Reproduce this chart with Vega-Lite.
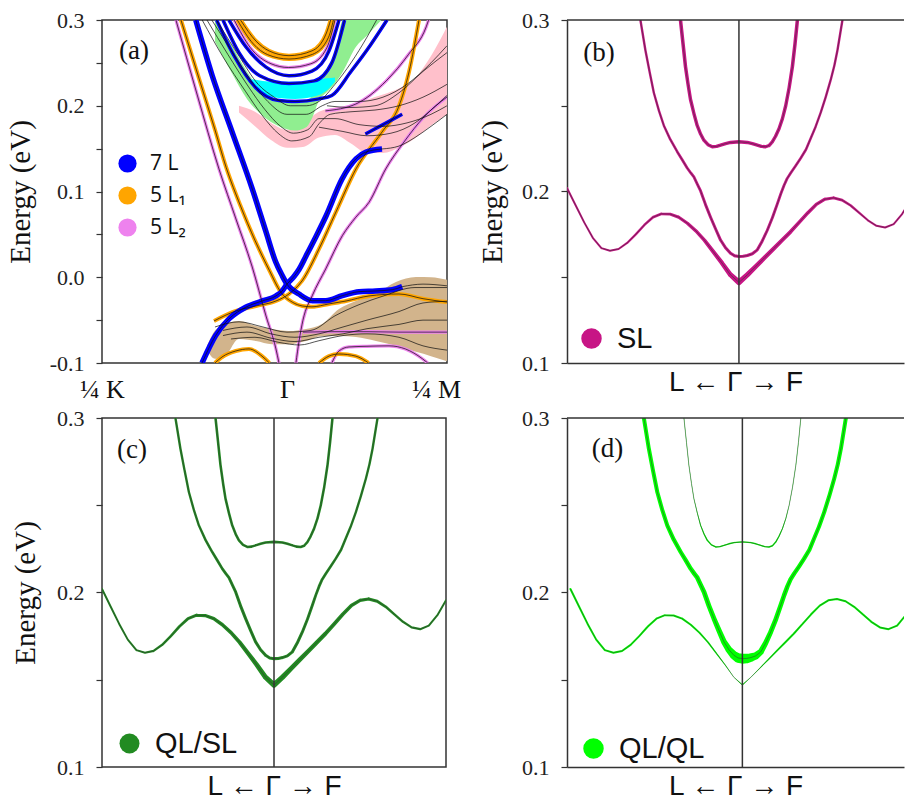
{
"$schema": "https://vega.github.io/schema/vega-lite/v6.json",
"background": "white",
"padding": {"left": 5, "top": 8, "right": 0, "bottom": 0},
"config": {
 "view": {"stroke": "#333", "strokeWidth": 1.5},
 "axis": {"grid": false, "domainColor": "#333", "domainWidth": 1.5, "tickColor": "#333", "tickWidth": 1.2, "tickSize": 6, "labelFont": "Liberation Serif", "labelFontSize": 22, "labelColor": "#222", "labelPadding": 12, "titleFont": "Liberation Serif", "titleFontSize": 29, "titleFontWeight": "normal", "titleColor": "#111", "titlePadding": 14},
 "legend": {"padding": 0, "symbolType": "circle", "symbolOpacity": 1, "symbolStrokeWidth": 0, "labelColor": "#111", "labelLimit": 300}
},
"datasets": {
 "bands": [
  {"b":1,"k":-1.00,"E":0.2020,"wSL":0.25,"wQS":0.25,"wQQ":0.25},
  {"b":1,"k":-0.95,"E":0.1920,"wSL":0.25,"wQS":0.25,"wQQ":0.25},
  {"b":1,"k":-0.90,"E":0.1820,"wSL":0.25,"wQS":0.25,"wQQ":0.25},
  {"b":1,"k":-0.85,"E":0.1730,"wSL":0.25,"wQS":0.25,"wQQ":0.25},
  {"b":1,"k":-0.80,"E":0.1670,"wSL":0.25,"wQS":0.25,"wQQ":0.25},
  {"b":1,"k":-0.75,"E":0.1655,"wSL":0.25,"wQS":0.27,"wQQ":0.25},
  {"b":1,"k":-0.70,"E":0.1665,"wSL":0.25,"wQS":0.28,"wQQ":0.25},
  {"b":1,"k":-0.65,"E":0.1700,"wSL":0.27,"wQS":0.30,"wQQ":0.25},
  {"b":1,"k":-0.60,"E":0.1750,"wSL":0.28,"wQS":0.32,"wQQ":0.25},
  {"b":1,"k":-0.55,"E":0.1805,"wSL":0.30,"wQS":0.34,"wQQ":0.25},
  {"b":1,"k":-0.50,"E":0.1850,"wSL":0.32,"wQS":0.36,"wQQ":0.25},
  {"b":1,"k":-0.45,"E":0.1870,"wSL":0.34,"wQS":0.38,"wQQ":0.25},
  {"b":1,"k":-0.40,"E":0.1868,"wSL":0.36,"wQS":0.40,"wQQ":0.25},
  {"b":1,"k":-0.35,"E":0.1850,"wSL":0.38,"wQS":0.42,"wQQ":0.25},
  {"b":1,"k":-0.30,"E":0.1815,"wSL":0.40,"wQS":0.44,"wQQ":0.25},
  {"b":1,"k":-0.25,"E":0.1770,"wSL":0.43,"wQS":0.46,"wQQ":0.24},
  {"b":1,"k":-0.20,"E":0.1715,"wSL":0.46,"wQS":0.49,"wQQ":0.22},
  {"b":1,"k":-0.15,"E":0.1650,"wSL":0.50,"wQS":0.53,"wQQ":0.18},
  {"b":1,"k":-0.10,"E":0.1585,"wSL":0.55,"wQS":0.58,"wQQ":0.10},
  {"b":1,"k":-0.05,"E":0.1515,"wSL":0.62,"wQS":0.64,"wQQ":0.03},
  {"b":1,"k":0.00,"E":0.1470,"wSL":0.70,"wQS":0.70,"wQQ":0.0},
  {"b":1,"k":0.05,"E":0.1515,"wSL":0.64,"wQS":0.65,"wQQ":0.03},
  {"b":1,"k":0.10,"E":0.1565,"wSL":0.58,"wQS":0.60,"wQQ":0.10},
  {"b":1,"k":0.15,"E":0.1615,"wSL":0.55,"wQS":0.57,"wQQ":0.18},
  {"b":1,"k":0.20,"E":0.1665,"wSL":0.52,"wQS":0.54,"wQQ":0.22},
  {"b":1,"k":0.25,"E":0.1715,"wSL":0.50,"wQS":0.52,"wQQ":0.24},
  {"b":1,"k":0.30,"E":0.1765,"wSL":0.48,"wQS":0.50,"wQQ":0.25},
  {"b":1,"k":0.35,"E":0.1820,"wSL":0.46,"wQS":0.48,"wQQ":0.25},
  {"b":1,"k":0.40,"E":0.1875,"wSL":0.44,"wQS":0.46,"wQQ":0.25},
  {"b":1,"k":0.45,"E":0.1925,"wSL":0.42,"wQS":0.44,"wQQ":0.25},
  {"b":1,"k":0.50,"E":0.1955,"wSL":0.40,"wQS":0.42,"wQQ":0.25},
  {"b":1,"k":0.55,"E":0.1963,"wSL":0.37,"wQS":0.40,"wQQ":0.25},
  {"b":1,"k":0.60,"E":0.1950,"wSL":0.34,"wQS":0.37,"wQQ":0.25},
  {"b":1,"k":0.65,"E":0.1918,"wSL":0.31,"wQS":0.34,"wQQ":0.25},
  {"b":1,"k":0.70,"E":0.1875,"wSL":0.28,"wQS":0.31,"wQQ":0.25},
  {"b":1,"k":0.75,"E":0.1832,"wSL":0.26,"wQS":0.29,"wQQ":0.25},
  {"b":1,"k":0.80,"E":0.1800,"wSL":0.25,"wQS":0.28,"wQQ":0.25},
  {"b":1,"k":0.85,"E":0.1790,"wSL":0.25,"wQS":0.27,"wQQ":0.25},
  {"b":1,"k":0.90,"E":0.1810,"wSL":0.25,"wQS":0.26,"wQQ":0.25},
  {"b":1,"k":0.95,"E":0.1870,"wSL":0.25,"wQS":0.25,"wQQ":0.25},
  {"b":1,"k":1.00,"E":0.1955,"wSL":0.25,"wQS":0.25,"wQQ":0.25},
  {"b":2,"k":-0.573,"E":0.3000,"wSL":0.30,"wQS":0.30,"wQQ":0.50},
  {"b":2,"k":-0.544,"E":0.2824,"wSL":0.30,"wQS":0.30,"wQQ":0.50},
  {"b":2,"k":-0.520,"E":0.2700,"wSL":0.30,"wQS":0.30,"wQQ":0.50},
  {"b":2,"k":-0.495,"E":0.2576,"wSL":0.30,"wQS":0.30,"wQQ":0.50},
  {"b":2,"k":-0.465,"E":0.2470,"wSL":0.30,"wQS":0.30,"wQQ":0.50},
  {"b":2,"k":-0.437,"E":0.2385,"wSL":0.30,"wQS":0.30,"wQQ":0.50},
  {"b":2,"k":-0.400,"E":0.2305,"wSL":0.32,"wQS":0.32,"wQQ":0.52},
  {"b":2,"k":-0.359,"E":0.2232,"wSL":0.32,"wQS":0.32,"wQQ":0.52},
  {"b":2,"k":-0.330,"E":0.2185,"wSL":0.34,"wQS":0.34,"wQQ":0.54},
  {"b":2,"k":-0.301,"E":0.2137,"wSL":0.34,"wQS":0.34,"wQQ":0.55},
  {"b":2,"k":-0.280,"E":0.2108,"wSL":0.35,"wQS":0.35,"wQQ":0.56},
  {"b":2,"k":-0.262,"E":0.2085,"wSL":0.35,"wQS":0.36,"wQQ":0.57},
  {"b":2,"k":-0.243,"E":0.2045,"wSL":0.35,"wQS":0.36,"wQQ":0.58},
  {"b":2,"k":-0.223,"E":0.2003,"wSL":0.36,"wQS":0.37,"wQQ":0.60},
  {"b":2,"k":-0.195,"E":0.1925,"wSL":0.36,"wQS":0.38,"wQQ":0.60},
  {"b":2,"k":-0.165,"E":0.1850,"wSL":0.37,"wQS":0.38,"wQQ":0.62},
  {"b":2,"k":-0.135,"E":0.1780,"wSL":0.37,"wQS":0.38,"wQQ":0.66},
  {"b":2,"k":-0.107,"E":0.1717,"wSL":0.38,"wQS":0.38,"wQQ":0.72},
  {"b":2,"k":-0.078,"E":0.1672,"wSL":0.38,"wQS":0.38,"wQQ":0.85},
  {"b":2,"k":-0.049,"E":0.1640,"wSL":0.38,"wQS":0.38,"wQQ":1.05},
  {"b":2,"k":-0.025,"E":0.1625,"wSL":0.38,"wQS":0.38,"wQQ":1.20},
  {"b":2,"k":0.000,"E":0.1621,"wSL":0.38,"wQS":0.38,"wQQ":1.25},
  {"b":2,"k":0.025,"E":0.1622,"wSL":0.38,"wQS":0.38,"wQQ":1.20},
  {"b":2,"k":0.049,"E":0.1627,"wSL":0.38,"wQS":0.38,"wQQ":1.05},
  {"b":2,"k":0.078,"E":0.1637,"wSL":0.38,"wQS":0.38,"wQQ":0.90},
  {"b":2,"k":0.107,"E":0.1660,"wSL":0.37,"wQS":0.38,"wQQ":0.75},
  {"b":2,"k":0.135,"E":0.1710,"wSL":0.37,"wQS":0.38,"wQQ":0.66},
  {"b":2,"k":0.165,"E":0.1774,"wSL":0.36,"wQS":0.37,"wQQ":0.62},
  {"b":2,"k":0.195,"E":0.1848,"wSL":0.36,"wQS":0.36,"wQQ":0.60},
  {"b":2,"k":0.223,"E":0.1927,"wSL":0.35,"wQS":0.36,"wQQ":0.58},
  {"b":2,"k":0.243,"E":0.1985,"wSL":0.35,"wQS":0.35,"wQQ":0.57},
  {"b":2,"k":0.262,"E":0.2035,"wSL":0.35,"wQS":0.35,"wQQ":0.56},
  {"b":2,"k":0.280,"E":0.2075,"wSL":0.34,"wQS":0.34,"wQQ":0.55},
  {"b":2,"k":0.301,"E":0.2108,"wSL":0.34,"wQS":0.34,"wQQ":0.54},
  {"b":2,"k":0.330,"E":0.2150,"wSL":0.33,"wQS":0.33,"wQQ":0.53},
  {"b":2,"k":0.359,"E":0.2194,"wSL":0.32,"wQS":0.32,"wQQ":0.52},
  {"b":2,"k":0.390,"E":0.2245,"wSL":0.32,"wQS":0.32,"wQQ":0.52},
  {"b":2,"k":0.417,"E":0.2309,"wSL":0.31,"wQS":0.31,"wQQ":0.50},
  {"b":2,"k":0.446,"E":0.2378,"wSL":0.30,"wQS":0.30,"wQQ":0.50},
  {"b":2,"k":0.476,"E":0.2461,"wSL":0.30,"wQS":0.30,"wQQ":0.50},
  {"b":2,"k":0.505,"E":0.2552,"wSL":0.30,"wQS":0.30,"wQQ":0.50},
  {"b":2,"k":0.534,"E":0.2652,"wSL":0.30,"wQS":0.30,"wQQ":0.50},
  {"b":2,"k":0.555,"E":0.2735,"wSL":0.30,"wQS":0.30,"wQQ":0.50},
  {"b":2,"k":0.573,"E":0.2824,"wSL":0.30,"wQS":0.30,"wQQ":0.50},
  {"b":2,"k":0.602,"E":0.3000,"wSL":0.30,"wQS":0.30,"wQQ":0.50},
  {"b":3,"k":-0.340,"E":0.3000,"wSL":0.44,"wQS":0.32,"wQQ":0.05},
  {"b":3,"k":-0.325,"E":0.2860,"wSL":0.44,"wQS":0.32,"wQQ":0.05},
  {"b":3,"k":-0.311,"E":0.2729,"wSL":0.44,"wQS":0.32,"wQQ":0.05},
  {"b":3,"k":-0.296,"E":0.2625,"wSL":0.43,"wQS":0.32,"wQQ":0.05},
  {"b":3,"k":-0.282,"E":0.2538,"wSL":0.43,"wQS":0.32,"wQQ":0.05},
  {"b":3,"k":-0.262,"E":0.2455,"wSL":0.42,"wQS":0.32,"wQQ":0.08},
  {"b":3,"k":-0.243,"E":0.2385,"wSL":0.42,"wQS":0.32,"wQQ":0.12},
  {"b":3,"k":-0.223,"E":0.2335,"wSL":0.42,"wQS":0.32,"wQQ":0.15},
  {"b":3,"k":-0.204,"E":0.2299,"wSL":0.42,"wQS":0.32,"wQQ":0.18},
  {"b":3,"k":-0.180,"E":0.2273,"wSL":0.42,"wQS":0.32,"wQQ":0.18},
  {"b":3,"k":-0.155,"E":0.2261,"wSL":0.42,"wQS":0.32,"wQQ":0.18},
  {"b":3,"k":-0.130,"E":0.2263,"wSL":0.42,"wQS":0.32,"wQQ":0.18},
  {"b":3,"k":-0.107,"E":0.2270,"wSL":0.42,"wQS":0.32,"wQQ":0.18},
  {"b":3,"k":-0.078,"E":0.2279,"wSL":0.42,"wQS":0.32,"wQQ":0.18},
  {"b":3,"k":-0.049,"E":0.2286,"wSL":0.42,"wQS":0.32,"wQQ":0.18},
  {"b":3,"k":0.000,"E":0.2290,"wSL":0.42,"wQS":0.32,"wQQ":0.18},
  {"b":3,"k":0.049,"E":0.2286,"wSL":0.42,"wQS":0.32,"wQQ":0.18},
  {"b":3,"k":0.078,"E":0.2279,"wSL":0.42,"wQS":0.32,"wQQ":0.18},
  {"b":3,"k":0.107,"E":0.2270,"wSL":0.42,"wQS":0.32,"wQQ":0.18},
  {"b":3,"k":0.130,"E":0.2263,"wSL":0.42,"wQS":0.32,"wQQ":0.18},
  {"b":3,"k":0.155,"E":0.2261,"wSL":0.42,"wQS":0.32,"wQQ":0.18},
  {"b":3,"k":0.175,"E":0.2268,"wSL":0.42,"wQS":0.32,"wQQ":0.18},
  {"b":3,"k":0.194,"E":0.2289,"wSL":0.42,"wQS":0.32,"wQQ":0.18},
  {"b":3,"k":0.213,"E":0.2322,"wSL":0.42,"wQS":0.32,"wQQ":0.15},
  {"b":3,"k":0.233,"E":0.2366,"wSL":0.42,"wQS":0.32,"wQQ":0.12},
  {"b":3,"k":0.253,"E":0.2425,"wSL":0.42,"wQS":0.32,"wQQ":0.08},
  {"b":3,"k":0.272,"E":0.2500,"wSL":0.43,"wQS":0.32,"wQQ":0.05},
  {"b":3,"k":0.292,"E":0.2605,"wSL":0.43,"wQS":0.32,"wQQ":0.05},
  {"b":3,"k":0.311,"E":0.2729,"wSL":0.44,"wQS":0.32,"wQQ":0.05},
  {"b":3,"k":0.326,"E":0.2860,"wSL":0.44,"wQS":0.32,"wQQ":0.05},
  {"b":3,"k":0.340,"E":0.3000,"wSL":0.44,"wQS":0.32,"wQQ":0.05}
 ],
 "aregions": [
  {"region":"tan","k":-0.5,"lo":-0.085,"hi":-0.08},
  {"region":"tan","k":-0.45,"lo":-0.095,"hi":-0.062},
  {"region":"tan","k":-0.406,"lo":-0.0953,"hi":-0.0568},
  {"region":"tan","k":-0.3,"lo":-0.072,"hi":-0.051},
  {"region":"tan","k":-0.194,"lo":-0.0743,"hi":-0.0568},
  {"region":"tan","k":-0.094,"lo":-0.078,"hi":-0.0603},
  {"region":"tan","k":0.0125,"lo":-0.078,"hi":-0.0627},
  {"region":"tan","k":0.119,"lo":-0.0743,"hi":-0.0603},
  {"region":"tan","k":0.219,"lo":-0.0685,"hi":-0.0545},
  {"region":"tan","k":0.325,"lo":-0.0685,"hi":-0.037},
  {"region":"tan","k":0.431,"lo":-0.0697,"hi":-0.0277},
  {"region":"tan","k":0.556,"lo":-0.0743,"hi":-0.0195},
  {"region":"tan","k":0.681,"lo":-0.08,"hi":-0.0055},
  {"region":"tan","k":0.806,"lo":-0.087,"hi":0.0003},
  {"region":"tan","k":0.9,"lo":-0.092,"hi":0.0},
  {"region":"tan","k":1.0,"lo":-0.098,"hi":-0.003},
  {"region":"pink","k":-0.3,"lo":0.192,"hi":0.2},
  {"region":"pink","k":-0.2,"lo":0.176,"hi":0.193},
  {"region":"pink","k":-0.1,"lo":0.16,"hi":0.18},
  {"region":"pink","k":0.0,"lo":0.151,"hi":0.172},
  {"region":"pink","k":0.1,"lo":0.152,"hi":0.18},
  {"region":"pink","k":0.2,"lo":0.163,"hi":0.193},
  {"region":"pink","k":0.3,"lo":0.166,"hi":0.198},
  {"region":"pink","k":0.4,"lo":0.156,"hi":0.2},
  {"region":"pink","k":0.5,"lo":0.145,"hi":0.207},
  {"region":"pink","k":0.6,"lo":0.145,"hi":0.213},
  {"region":"pink","k":0.7,"lo":0.151,"hi":0.22},
  {"region":"pink","k":0.8,"lo":0.162,"hi":0.232},
  {"region":"pink","k":0.9,"lo":0.177,"hi":0.258},
  {"region":"pink","k":1.0,"lo":0.19,"hi":0.292},
  {"region":"green","k":-0.45,"lo":0.275,"hi":0.3},
  {"region":"green","k":-0.35,"lo":0.24,"hi":0.272},
  {"region":"green","k":-0.25,"lo":0.208,"hi":0.24},
  {"region":"green","k":-0.15,"lo":0.188,"hi":0.215},
  {"region":"green","k":-0.05,"lo":0.176,"hi":0.205},
  {"region":"green","k":0.05,"lo":0.171,"hi":0.203},
  {"region":"green","k":0.12,"lo":0.175,"hi":0.206},
  {"region":"green","k":0.16,"lo":0.187,"hi":0.212},
  {"region":"green","k":0.2,"lo":0.206,"hi":0.224},
  {"region":"green","k":0.25,"lo":0.216,"hi":0.24},
  {"region":"green","k":0.3,"lo":0.226,"hi":0.262},
  {"region":"green","k":0.35,"lo":0.24,"hi":0.3},
  {"region":"green","k":0.43,"lo":0.2685,"hi":0.3},
  {"region":"green","k":0.5,"lo":0.282,"hi":0.3},
  {"region":"green","k":0.59,"lo":0.3,"hi":0.3},
  {"region":"cyan","k":-0.22,"lo":0.226,"hi":0.231},
  {"region":"cyan","k":-0.15,"lo":0.213,"hi":0.229},
  {"region":"cyan","k":-0.05,"lo":0.209,"hi":0.228},
  {"region":"cyan","k":0.05,"lo":0.208,"hi":0.228},
  {"region":"cyan","k":0.15,"lo":0.21,"hi":0.229},
  {"region":"cyan","k":0.25,"lo":0.218,"hi":0.232},
  {"region":"cyan","k":0.3,"lo":0.228,"hi":0.233}
 ],
 "abands": [
  {"id":"A","orb":"7 L","k":-0.57,"E":0.3},{"id":"A","orb":"7 L","k":-0.467,"E":0.235},{"id":"A","orb":"7 L","k":-0.342,"E":0.169},{"id":"A","orb":"7 L","k":-0.217,"E":0.103},{"id":"A","orb":"7 L","k":-0.133,"E":0.054},{"id":"A","orb":"7 L","k":-0.071,"E":0.018},{"id":"A","orb":"7 L","k":-0.03,"E":0.002},{"id":"A","orb":"7 L","k":0,"E":-0.008},{"id":"A","orb":"7 L","k":0.075,"E":-0.0196},{"id":"A","orb":"7 L","k":0.158,"E":-0.0273},{"id":"A","orb":"7 L","k":0.242,"E":-0.0273},{"id":"A","orb":"7 L","k":0.346,"E":-0.0215},{"id":"A","orb":"7 L","k":0.45,"E":-0.0168},{"id":"A","orb":"7 L","k":0.554,"E":-0.016},{"id":"A","orb":"7 L","k":0.658,"E":-0.0145},{"id":"A","orb":"7 L","k":0.72,"E":-0.011},
  {"id":"B","orb":"7 L","k":-0.531,"E":-0.1},{"id":"B","orb":"7 L","k":-0.446,"E":-0.068},{"id":"B","orb":"7 L","k":-0.3625,"E":-0.0486},{"id":"B","orb":"7 L","k":-0.258,"E":-0.035},{"id":"B","orb":"7 L","k":-0.156,"E":-0.0277},{"id":"B","orb":"7 L","k":-0.069,"E":-0.0218},{"id":"B","orb":"7 L","k":-0.03,"E":-0.016},{"id":"B","orb":"7 L","k":0,"E":-0.008},{"id":"B","orb":"7 L","k":0.04,"E":0.0},{"id":"B","orb":"7 L","k":0.075,"E":0.009},{"id":"B","orb":"7 L","k":0.119,"E":0.0248},{"id":"B","orb":"7 L","k":0.18,"E":0.047},{"id":"B","orb":"7 L","k":0.244,"E":0.0714},{"id":"B","orb":"7 L","k":0.344,"E":0.1146},{"id":"B","orb":"7 L","k":0.431,"E":0.138},{"id":"B","orb":"7 L","k":0.494,"E":0.146},{"id":"B","orb":"7 L","k":0.594,"E":0.1496},
  {"id":"BD","orb":"bulk","k":0.594,"E":0.1496},{"id":"BD","orb":"bulk","k":0.7,"E":0.153},{"id":"BD","orb":"bulk","k":0.8,"E":0.163},{"id":"BD","orb":"bulk","k":0.9,"E":0.176},{"id":"BD","orb":"bulk","k":1,"E":0.19},
  {"id":"AD","orb":"bulk","k":0.72,"E":-0.011},{"id":"AD","orb":"bulk","k":0.85,"E":-0.008},{"id":"AD","orb":"bulk","k":1,"E":-0.01},
  {"id":"B2","orb":"7 L","k":0.49,"E":0.167},{"id":"B2","orb":"7 L","k":0.6,"E":0.178},{"id":"B2","orb":"7 L","k":0.72,"E":0.19},
  {"id":"C","orb":"5 L₁","k":-0.6625,"E":0.3},{"id":"C","orb":"5 L₁","k":-0.55,"E":0.232},{"id":"C","orb":"5 L₁","k":-0.45,"E":0.172},{"id":"C","orb":"5 L₁","k":-0.38,"E":0.128},{"id":"C","orb":"5 L₁","k":-0.29,"E":0.083},{"id":"C","orb":"5 L₁","k":-0.2,"E":0.043},{"id":"C","orb":"5 L₁","k":-0.11,"E":0.008},{"id":"C","orb":"5 L₁","k":-0.04,"E":-0.017},{"id":"C","orb":"5 L₁","k":0.033,"E":-0.029},{"id":"C","orb":"5 L₁","k":0.096,"E":-0.0335},{"id":"C","orb":"5 L₁","k":0.156,"E":-0.0345},{"id":"C","orb":"5 L₁","k":0.2625,"E":-0.0311},{"id":"C","orb":"5 L₁","k":0.369,"E":-0.0277},{"id":"C","orb":"5 L₁","k":0.5125,"E":-0.0218},{"id":"C","orb":"5 L₁","k":0.7,"E":-0.0195},{"id":"C","orb":"5 L₁","k":0.85,"E":-0.025},{"id":"C","orb":"5 L₁","k":1,"E":-0.029},
  {"id":"D","orb":"5 L₁","k":-0.456,"E":-0.051},{"id":"D","orb":"5 L₁","k":-0.319,"E":-0.0393},{"id":"D","orb":"5 L₁","k":-0.194,"E":-0.0335},{"id":"D","orb":"5 L₁","k":-0.069,"E":-0.0277},{"id":"D","orb":"5 L₁","k":0.0125,"E":-0.0195},{"id":"D","orb":"5 L₁","k":0.094,"E":-0.0043},{"id":"D","orb":"5 L₁","k":0.2,"E":0.033},{"id":"D","orb":"5 L₁","k":0.306,"E":0.0761},{"id":"D","orb":"5 L₁","k":0.431,"E":0.1263},{"id":"D","orb":"5 L₁","k":0.594,"E":0.1694},{"id":"D","orb":"5 L₁","k":0.7,"E":0.1997},{"id":"D","orb":"5 L₁","k":0.7625,"E":0.2393},{"id":"D","orb":"5 L₁","k":0.825,"E":0.3},
  {"id":"E","orb":"5 L₂","k":-0.694,"E":0.3},{"id":"E","orb":"5 L₂","k":-0.5625,"E":0.2137},{"id":"E","orb":"5 L₂","k":-0.425,"E":0.1263},{"id":"E","orb":"5 L₂","k":-0.319,"E":0.068},{"id":"E","orb":"5 L₂","k":-0.219,"E":0.0131},{"id":"E","orb":"5 L₂","k":-0.131,"E":-0.0452},{"id":"E","orb":"5 L₂","k":-0.069,"E":-0.0836},{"id":"E","orb":"5 L₂","k":-0.05,"E":-0.1},
  {"id":"F","orb":"5 L₂","k":0.056,"E":-0.1},{"id":"F","orb":"5 L₂","k":0.075,"E":-0.075},{"id":"F","orb":"5 L₂","k":0.1,"E":-0.05},{"id":"F","orb":"5 L₂","k":0.158,"E":-0.0215},{"id":"F","orb":"5 L₂","k":0.242,"E":0.0097},{"id":"F","orb":"5 L₂","k":0.346,"E":0.0485},{"id":"F","orb":"5 L₂","k":0.43,"E":0.07},{"id":"F","orb":"5 L₂","k":0.5125,"E":0.0874},{"id":"F","orb":"5 L₂","k":0.617,"E":0.1263},{"id":"F","orb":"5 L₂","k":0.731,"E":0.1577},{"id":"F","orb":"5 L₂","k":0.856,"E":0.1869},{"id":"F","orb":"5 L₂","k":1,"E":0.2102},
  {"id":"G","orb":"5 L₂","k":0.1,"E":-0.064},{"id":"G","orb":"5 L₂","k":0.3,"E":-0.0635},{"id":"G","orb":"5 L₂","k":0.5,"E":-0.0635},{"id":"G","orb":"5 L₂","k":0.7,"E":-0.064},{"id":"G","orb":"5 L₂","k":1,"E":-0.064},
  {"id":"VA","orb":"5 L₂","k":0.28,"E":-0.1},{"id":"VA","orb":"5 L₂","k":0.325,"E":-0.086},{"id":"VA","orb":"5 L₂","k":0.3875,"E":-0.0813},{"id":"VA","orb":"5 L₂","k":0.5,"E":-0.0805},{"id":"VA","orb":"5 L₂","k":0.6375,"E":-0.08},{"id":"VA","orb":"5 L₂","k":0.74,"E":-0.0836},{"id":"VA","orb":"5 L₂","k":0.846,"E":-0.095},{"id":"VA","orb":"5 L₂","k":0.88,"E":-0.1},
  {"id":"OA1","orb":"5 L₁","k":-0.45,"E":-0.1},{"id":"OA1","orb":"5 L₁","k":-0.406,"E":-0.093},{"id":"OA1","orb":"5 L₁","k":-0.32,"E":-0.086},{"id":"OA1","orb":"5 L₁","k":-0.2375,"E":-0.0836},{"id":"OA1","orb":"5 L₁","k":-0.156,"E":-0.092},{"id":"OA1","orb":"5 L₁","k":-0.11,"E":-0.1},
  {"id":"OA2","orb":"5 L₁","k":0.2,"E":-0.1},{"id":"OA2","orb":"5 L₁","k":0.2625,"E":-0.092},{"id":"OA2","orb":"5 L₁","k":0.325,"E":-0.0895},{"id":"OA2","orb":"5 L₁","k":0.43,"E":-0.092},{"id":"OA2","orb":"5 L₁","k":0.51,"E":-0.1},
  {"id":"UO1","orb":"5 L₁","k":-0.29,"E":0.3},{"id":"UO1","orb":"5 L₁","k":-0.194,"E":0.2755},{"id":"UO1","orb":"5 L₁","k":-0.1125,"E":0.264},{"id":"UO1","orb":"5 L₁","k":0.0125,"E":0.2584},{"id":"UO1","orb":"5 L₁","k":0.156,"E":0.264},{"id":"UO1","orb":"5 L₁","k":0.244,"E":0.2837},{"id":"UO1","orb":"5 L₁","k":0.273,"E":0.3},
  {"id":"UO2","orb":"5 L₁","k":-0.31,"E":0.3},{"id":"UO2","orb":"5 L₁","k":-0.21,"E":0.272},{"id":"UO2","orb":"5 L₁","k":-0.12,"E":0.2595},{"id":"UO2","orb":"5 L₁","k":0.0125,"E":0.2545},{"id":"UO2","orb":"5 L₁","k":0.16,"E":0.26},{"id":"UO2","orb":"5 L₁","k":0.26,"E":0.28},{"id":"UO2","orb":"5 L₁","k":0.29,"E":0.3},
  {"id":"UV1","orb":"5 L₂","k":-0.33,"E":0.3},{"id":"UV1","orb":"5 L₂","k":-0.23,"E":0.268},{"id":"UV1","orb":"5 L₂","k":-0.1,"E":0.249},{"id":"UV1","orb":"5 L₂","k":0.01,"E":0.2446},{"id":"UV1","orb":"5 L₂","k":0.15,"E":0.249},{"id":"UV1","orb":"5 L₂","k":0.25,"E":0.268},{"id":"UV1","orb":"5 L₂","k":0.3,"E":0.3},
  {"id":"UB1","orb":"7 L","k":-0.3625,"E":0.3},{"id":"UB1","orb":"7 L","k":-0.256,"E":0.2685},{"id":"UB1","orb":"7 L","k":-0.131,"E":0.245},{"id":"UB1","orb":"7 L","k":0.0125,"E":0.235},{"id":"UB1","orb":"7 L","k":0.156,"E":0.2405},{"id":"UB1","orb":"7 L","k":0.2625,"E":0.264},{"id":"UB1","orb":"7 L","k":0.325,"E":0.3},
  {"id":"UB2","orb":"7 L","k":-0.4,"E":0.3},{"id":"UB2","orb":"7 L","k":-0.3,"E":0.262},{"id":"UB2","orb":"7 L","k":-0.17,"E":0.235},{"id":"UB2","orb":"7 L","k":0.0125,"E":0.226},{"id":"UB2","orb":"7 L","k":0.17,"E":0.229},{"id":"UB2","orb":"7 L","k":0.28,"E":0.25},{"id":"UB2","orb":"7 L","k":0.36,"E":0.3},
  {"id":"UB3","orb":"7 L","k":-0.44,"E":0.3},{"id":"UB3","orb":"7 L","k":-0.33,"E":0.258},{"id":"UB3","orb":"7 L","k":-0.2,"E":0.222},{"id":"UB3","orb":"7 L","k":-0.05,"E":0.206},{"id":"UB3","orb":"7 L","k":0.05,"E":0.205},{"id":"UB3","orb":"7 L","k":0.2,"E":0.208},{"id":"UB3","orb":"7 L","k":0.28,"E":0.212},{"id":"UB3","orb":"7 L","k":0.4,"E":0.24},{"id":"UB3","orb":"7 L","k":0.5,"E":0.265},{"id":"UB3","orb":"7 L","k":0.625,"E":0.3},
  {"id":"V2","orb":"5 L₂","k":0.24,"E":0.194},{"id":"V2","orb":"5 L₂","k":0.43,"E":0.202},{"id":"V2","orb":"5 L₂","k":0.62,"E":0.229},{"id":"V2","orb":"5 L₂","k":0.76,"E":0.26},{"id":"V2","orb":"5 L₂","k":0.87,"E":0.292},{"id":"V2","orb":"5 L₂","k":0.885,"E":0.3},
  {"id":"K1","orb":"bulk","k":-0.53,"E":0.3},{"id":"K1","orb":"bulk","k":-0.4,"E":0.257},{"id":"K1","orb":"bulk","k":-0.26,"E":0.217},{"id":"K1","orb":"bulk","k":-0.16,"E":0.19},{"id":"K1","orb":"bulk","k":-0.05,"E":0.167},{"id":"K1","orb":"bulk","k":0.03,"E":0.159},{"id":"K1","orb":"bulk","k":0.14,"E":0.164},{"id":"K1","orb":"bulk","k":0.2,"E":0.179},{"id":"K1","orb":"bulk","k":0.27,"E":0.19},{"id":"K1","orb":"bulk","k":0.4,"E":0.193},{"id":"K1","orb":"bulk","k":0.55,"E":0.195},{"id":"K1","orb":"bulk","k":0.7,"E":0.2},{"id":"K1","orb":"bulk","k":0.85,"E":0.21},{"id":"K1","orb":"bulk","k":1,"E":0.225},
  {"id":"K2","orb":"bulk","k":-0.5,"E":0.3},{"id":"K2","orb":"bulk","k":-0.37,"E":0.26},{"id":"K2","orb":"bulk","k":-0.24,"E":0.222},{"id":"K2","orb":"bulk","k":-0.14,"E":0.196},{"id":"K2","orb":"bulk","k":-0.04,"E":0.176},{"id":"K2","orb":"bulk","k":0.04,"E":0.168},{"id":"K2","orb":"bulk","k":0.13,"E":0.172},{"id":"K2","orb":"bulk","k":0.2,"E":0.185},{"id":"K2","orb":"bulk","k":0.3,"E":0.185},{"id":"K2","orb":"bulk","k":0.45,"E":0.178},{"id":"K2","orb":"bulk","k":0.6,"E":0.176},{"id":"K2","orb":"bulk","k":0.75,"E":0.18},{"id":"K2","orb":"bulk","k":0.9,"E":0.19},{"id":"K2","orb":"bulk","k":1,"E":0.2},
  {"id":"K3","orb":"bulk","k":-0.47,"E":0.3},{"id":"K3","orb":"bulk","k":-0.34,"E":0.262},{"id":"K3","orb":"bulk","k":-0.22,"E":0.228},{"id":"K3","orb":"bulk","k":-0.12,"E":0.205},{"id":"K3","orb":"bulk","k":0,"E":0.19},{"id":"K3","orb":"bulk","k":0.12,"E":0.19},{"id":"K3","orb":"bulk","k":0.22,"E":0.2},{"id":"K3","orb":"bulk","k":0.3,"E":0.205},{"id":"K3","orb":"bulk","k":0.45,"E":0.205},{"id":"K3","orb":"bulk","k":0.6,"E":0.21},{"id":"K3","orb":"bulk","k":0.75,"E":0.225},{"id":"K3","orb":"bulk","k":0.9,"E":0.25},{"id":"K3","orb":"bulk","k":1,"E":0.27},
  {"id":"K4","orb":"bulk","k":-0.44,"E":0.3},{"id":"K4","orb":"bulk","k":-0.3,"E":0.258},{"id":"K4","orb":"bulk","k":-0.18,"E":0.225},{"id":"K4","orb":"bulk","k":-0.08,"E":0.21},{"id":"K4","orb":"bulk","k":0.02,"E":0.2},{"id":"K4","orb":"bulk","k":0.12,"E":0.2},{"id":"K4","orb":"bulk","k":0.2,"E":0.205},{"id":"K4","orb":"bulk","k":0.3,"E":0.225},{"id":"K4","orb":"bulk","k":0.4,"E":0.25},{"id":"K4","orb":"bulk","k":0.5,"E":0.28},{"id":"K4","orb":"bulk","k":0.56,"E":0.3},
  {"id":"K5","orb":"bulk","k":0.2,"E":0.175},{"id":"K5","orb":"bulk","k":0.35,"E":0.17},{"id":"K5","orb":"bulk","k":0.5,"E":0.165},{"id":"K5","orb":"bulk","k":0.65,"E":0.168},{"id":"K5","orb":"bulk","k":0.8,"E":0.18},{"id":"K5","orb":"bulk","k":0.9,"E":0.195},{"id":"K5","orb":"bulk","k":1,"E":0.212},
  {"id":"K6","orb":"bulk","k":0.25,"E":0.2},{"id":"K6","orb":"bulk","k":0.4,"E":0.198},{"id":"K6","orb":"bulk","k":0.55,"E":0.2},{"id":"K6","orb":"bulk","k":0.7,"E":0.215},{"id":"K6","orb":"bulk","k":0.85,"E":0.24},{"id":"K6","orb":"bulk","k":1,"E":0.262},
  {"id":"T1","orb":"bulk","k":-0.45,"E":-0.058},{"id":"T1","orb":"bulk","k":-0.3,"E":-0.052},{"id":"T1","orb":"bulk","k":-0.15,"E":-0.058},{"id":"T1","orb":"bulk","k":0,"E":-0.064},{"id":"T1","orb":"bulk","k":0.15,"E":-0.062},{"id":"T1","orb":"bulk","k":0.3,"E":-0.045},{"id":"T1","orb":"bulk","k":0.45,"E":-0.032},{"id":"T1","orb":"bulk","k":0.6,"E":-0.022},{"id":"T1","orb":"bulk","k":0.8,"E":-0.012},{"id":"T1","orb":"bulk","k":1,"E":-0.012},
  {"id":"T2","orb":"bulk","k":-0.4,"E":-0.062},{"id":"T2","orb":"bulk","k":-0.25,"E":-0.058},{"id":"T2","orb":"bulk","k":-0.1,"E":-0.066},{"id":"T2","orb":"bulk","k":0.05,"E":-0.07},{"id":"T2","orb":"bulk","k":0.2,"E":-0.066},{"id":"T2","orb":"bulk","k":0.35,"E":-0.058},{"id":"T2","orb":"bulk","k":0.5,"E":-0.05},{"id":"T2","orb":"bulk","k":0.7,"E":-0.04},{"id":"T2","orb":"bulk","k":0.85,"E":-0.03},{"id":"T2","orb":"bulk","k":1,"E":-0.028},
  {"id":"T3","orb":"bulk","k":-0.4,"E":-0.068},{"id":"T3","orb":"bulk","k":-0.25,"E":-0.064},{"id":"T3","orb":"bulk","k":-0.1,"E":-0.071},{"id":"T3","orb":"bulk","k":0.05,"E":-0.075},{"id":"T3","orb":"bulk","k":0.2,"E":-0.07},{"id":"T3","orb":"bulk","k":0.35,"E":-0.066},{"id":"T3","orb":"bulk","k":0.5,"E":-0.06},{"id":"T3","orb":"bulk","k":0.7,"E":-0.055},{"id":"T3","orb":"bulk","k":0.85,"E":-0.05},{"id":"T3","orb":"bulk","k":1,"E":-0.05},
  {"id":"T4","orb":"bulk","k":-0.35,"E":-0.072},{"id":"T4","orb":"bulk","k":-0.2,"E":-0.07},{"id":"T4","orb":"bulk","k":-0.05,"E":-0.076},{"id":"T4","orb":"bulk","k":0.08,"E":-0.079},{"id":"T4","orb":"bulk","k":0.2,"E":-0.074},{"id":"T4","orb":"bulk","k":0.35,"E":-0.068},{"id":"T4","orb":"bulk","k":0.5,"E":-0.066},{"id":"T4","orb":"bulk","k":0.7,"E":-0.07},{"id":"T4","orb":"bulk","k":0.85,"E":-0.08},{"id":"T4","orb":"bulk","k":1,"E":-0.085}
 ]
},
"columns": 2,
"spacing": {"row": 55, "column": 120},
"bounds": "flush",
"resolve": {"scale": {"color": "independent", "fill": "independent", "size": "independent"}, "legend": {"color": "independent", "fill": "independent", "size": "independent"}},
"concat": [
   {
    "width": 345, "height": 343,
    "layer": [
     {"data": {"name": "aregions"}, "transform": [{"filter": "datum.region === 'tan'"}],
      "mark": {"type": "area", "color": "tan", "interpolate": "monotone", "clip": true},
      "encoding": {
       "x": {"field": "k", "type": "quantitative", "scale": {"domain": [-1.156, 1], "nice": false, "zero": false}, "title": null,
             "axis": {"values": [-1.156, 0, 1], "labelExpr": "datum.value < -0.5 ? '¼ K' : (datum.value > 0.5 ? '¼ M' : 'Γ')", "ticks": false, "domain": false, "labelFontSize": 26, "labelPadding": 13, "labelColor": "#111", "labelFlush": false, "labelOverlap": false,
                      "labelOffset": {"condition": {"test": "datum.value > 0.5", "value": -11}, "value": 0}}},
       "y": {"field": "hi", "type": "quantitative", "scale": {"domain": [-0.1, 0.3], "nice": false, "zero": false}, "title": "Energy (eV)",
             "axis": {"values": [-0.1, -0.05, 0, 0.05, 0.1, 0.15, 0.2, 0.25, 0.3], "domain": false, "labelExpr": "abs(datum.value*10 - round(datum.value*10)) < 0.01 ? (datum.value < -0.001 ? '-' + format(-datum.value, '.1f') : format(datum.value, '.1f')) : ''"}},
       "y2": {"field": "lo"}
      }},
     {"data": {"name": "aregions"}, "transform": [{"filter": "datum.region === 'pink'"}],
      "mark": {"type": "area", "color": "pink", "interpolate": "monotone", "clip": true},
      "encoding": {"x": {"field": "k", "type": "quantitative", "title": null}, "y": {"field": "hi", "type": "quantitative", "title": "Energy (eV)"}, "y2": {"field": "lo"}}},
     {"data": {"name": "aregions"}, "transform": [{"filter": "datum.region === 'green'"}],
      "mark": {"type": "area", "color": "lightgreen", "interpolate": "monotone", "clip": true},
      "encoding": {"x": {"field": "k", "type": "quantitative", "title": null}, "y": {"field": "hi", "type": "quantitative", "title": "Energy (eV)"}, "y2": {"field": "lo"}}},
     {"data": {"name": "aregions"}, "transform": [{"filter": "datum.region === 'cyan'"}],
      "mark": {"type": "area", "color": "cyan", "interpolate": "monotone", "clip": true},
      "encoding": {"x": {"field": "k", "type": "quantitative", "title": null}, "y": {"field": "hi", "type": "quantitative", "title": "Energy (eV)"}, "y2": {"field": "lo"}}},
     {"data": {"name": "abands"}, "transform": [{"filter": "datum.orb === '5 L₂'"}],
      "mark": {"type": "line", "interpolate": "monotone", "clip": true, "color": "#ee82ee", "strokeWidth": 3.2},
      "encoding": {"x": {"field": "k", "type": "quantitative", "title": null}, "y": {"field": "E", "type": "quantitative", "title": "Energy (eV)"}, "detail": {"field": "id", "type": "nominal"}}},
     {"data": {"name": "abands"}, "transform": [{"filter": "datum.orb === '5 L₁'"}],
      "mark": {"type": "line", "interpolate": "monotone", "clip": true, "color": "#ffa500", "strokeWidth": 4},
      "encoding": {"x": {"field": "k", "type": "quantitative", "title": null}, "y": {"field": "E", "type": "quantitative", "title": "Energy (eV)"}, "detail": {"field": "id", "type": "nominal"}}},
     {"data": {"name": "abands"}, "transform": [{"filter": "datum.orb === '7 L' && datum.id !== 'A' && datum.id !== 'B'"}],
      "mark": {"type": "line", "interpolate": "monotone", "clip": true, "color": "#0000ff", "strokeWidth": 3.5},
      "encoding": {"x": {"field": "k", "type": "quantitative", "title": null}, "y": {"field": "E", "type": "quantitative", "title": "Energy (eV)"}, "detail": {"field": "id", "type": "nominal"}}},
     {"data": {"name": "abands"}, "transform": [{"filter": "datum.id === 'A' || datum.id === 'B'"}],
      "mark": {"type": "line", "interpolate": "monotone", "clip": true, "color": "#0000ff", "strokeWidth": 5.5},
      "encoding": {"x": {"field": "k", "type": "quantitative", "title": null}, "y": {"field": "E", "type": "quantitative", "title": "Energy (eV)"}, "detail": {"field": "id", "type": "nominal"}}},
     {"data": {"name": "abands"},
      "mark": {"type": "line", "interpolate": "monotone", "clip": true, "strokeWidth": 0.9, "color": "#111", "opacity": 0.8},
      "encoding": {"x": {"field": "k", "type": "quantitative", "title": null}, "y": {"field": "E", "type": "quantitative", "title": "Energy (eV)"}, "detail": {"field": "id", "type": "nominal"}}},
     {"data": {"values": [{}]},
      "mark": {"type": "text", "font": "Liberation Serif", "fontSize": 27, "color": "#111", "align": "center", "baseline": "middle"},
      "encoding": {"x": {"datum": -0.956, "type": "quantitative", "title": null}, "y": {"datum": 0.264, "type": "quantitative", "title": "Energy (eV)"}, "text": {"value": "(a)"}}},
     {"data": {"values": [{"lab": "7 L"}, {"lab": "5 L₁"}, {"lab": "5 L₂"}]},
      "mark": {"type": "circle", "opacity": 0},
      "encoding": {"x": {"datum": 0, "type": "quantitative", "title": null}, "y": {"datum": 0.1, "type": "quantitative", "title": "Energy (eV)"},
       "fill": {"field": "lab", "type": "nominal", "scale": {"domain": ["7 L", "5 L₁", "5 L₂"], "range": ["#0000ff", "#ffa500", "#ee82ee"]},
        "legend": {"orient": "none", "legendX": 15, "legendY": 133, "title": null, "symbolSize": 330, "symbolOpacity": 1, "labelFont": "Open Sans", "labelFontSize": 21, "labelOffset": 12, "rowPadding": 10}}}}
    ]
   },
   {
    "width": 337, "height": 343,
    "view": {"stroke": null},
    "layer": [
     {"data": {"name": "bands"},
      "mark": {"type": "trail", "color": "#c71585", "clip": true},
      "encoding": {
       "x": {"field": "k", "type": "quantitative", "scale": {"domain": [-1, 0.96], "nice": false, "zero": false}, "title": "L ← Γ → F",
             "axis": {"ticks": false, "labels": false, "domain": true, "titleFont": "Liberation Sans", "titleFontSize": 28, "titlePadding": 5, "titleColor": "#111"}},
       "y": {"field": "E", "type": "quantitative", "scale": {"domain": [0.1, 0.3], "nice": false, "zero": false}, "title": "Energy (eV)",
             "axis": {"values": [0.1, 0.15, 0.2, 0.25, 0.3], "domain": true, "labelExpr": "abs(datum.value*10 - round(datum.value*10)) < 0.01 ? format(datum.value, '.1f') : ''"}},
       "detail": {"field": "b", "type": "nominal"},
       "order": {"field": "k", "type": "quantitative"},
       "size": {"field": "wSL", "type": "quantitative", "scale": {"domain": [0, 1], "range": [0, 8]}, "legend": null}
      }},
     {"data": {"name": "bands"},
      "mark": {"type": "line", "color": "#333", "strokeWidth": 0.9, "opacity": 0.6, "clip": true},
      "encoding": {"x": {"field": "k", "type": "quantitative", "title": "L ← Γ → F"}, "y": {"field": "E", "type": "quantitative", "title": "Energy (eV)"}, "detail": {"field": "b", "type": "nominal"}}},
     {"data": {"values": [{}]}, "mark": {"type": "rule", "color": "#333", "strokeWidth": 1.5}, "encoding": {"x": {"datum": 0, "type": "quantitative", "title": "L ← Γ → F"}}},
     {"data": {"values": [{}]}, "mark": {"type": "rule", "color": "#333", "strokeWidth": 1.5}, "encoding": {"y": {"datum": 0.3, "type": "quantitative", "title": "Energy (eV)"}}},
     {"data": {"values": [{}]},
      "mark": {"type": "text", "font": "Liberation Serif", "fontSize": 27, "color": "#111", "align": "center", "baseline": "middle"},
      "encoding": {"x": {"datum": -0.814, "type": "quantitative", "title": "L ← Γ → F"}, "y": {"datum": 0.2808, "type": "quantitative", "title": "Energy (eV)"}, "text": {"value": "(b)"}}},
     {"data": {"values": [{"p": "SL"}]},
      "mark": {"type": "circle", "opacity": 0},
      "encoding": {"x": {"datum": 0, "type": "quantitative", "title": "L ← Γ → F"}, "y": {"datum": 0.2, "type": "quantitative", "title": "Energy (eV)"},
       "fill": {"field": "p", "type": "nominal", "scale": {"range": ["#c71585"]},
        "legend": {"orient": "none", "legendX": 10, "legendY": 304, "title": null, "symbolSize": 420, "symbolOpacity": 1, "labelFont": "Liberation Sans", "labelFontSize": 29, "labelOffset": 11}}}}
    ]
   },
   {
    "width": 344, "height": 349,
    "layer": [
     {"data": {"name": "bands"},
      "mark": {"type": "trail", "color": "#228b22", "clip": true},
      "encoding": {
       "x": {"field": "k", "type": "quantitative", "scale": {"domain": [-1, 1], "nice": false, "zero": false}, "title": "L ← Γ → F",
             "axis": {"ticks": false, "labels": false, "domain": false, "titleFont": "Liberation Sans", "titleFontSize": 28, "titlePadding": 5, "titleColor": "#111"}},
       "y": {"field": "E", "type": "quantitative", "scale": {"domain": [0.1, 0.3], "nice": false, "zero": false}, "title": "Energy (eV)",
             "axis": {"values": [0.1, 0.15, 0.2, 0.25, 0.3], "domain": false, "titlePadding": 16, "labelExpr": "abs(datum.value*10 - round(datum.value*10)) < 0.01 ? format(datum.value, '.1f') : ''"}},
       "detail": {"field": "b", "type": "nominal"},
       "order": {"field": "k", "type": "quantitative"},
       "size": {"field": "wQS", "type": "quantitative", "scale": {"domain": [0, 1], "range": [0, 8]}, "legend": null}
      }},
     {"data": {"name": "bands"},
      "mark": {"type": "line", "color": "#333", "strokeWidth": 0.9, "opacity": 0.6, "clip": true},
      "encoding": {"x": {"field": "k", "type": "quantitative", "title": "L ← Γ → F"}, "y": {"field": "E", "type": "quantitative", "title": "Energy (eV)"}, "detail": {"field": "b", "type": "nominal"}}},
     {"data": {"values": [{}]}, "mark": {"type": "rule", "color": "#333", "strokeWidth": 1.5}, "encoding": {"x": {"datum": 0, "type": "quantitative", "title": "L ← Γ → F"}}},
     {"data": {"values": [{}]},
      "mark": {"type": "text", "font": "Liberation Serif", "fontSize": 27, "color": "#111", "align": "center", "baseline": "middle"},
      "encoding": {"x": {"datum": -0.826, "type": "quantitative", "title": "L ← Γ → F"}, "y": {"datum": 0.2817, "type": "quantitative", "title": "Energy (eV)"}, "text": {"value": "(c)"}}},
     {"data": {"values": [{"p": "QL/SL"}]},
      "mark": {"type": "circle", "opacity": 0},
      "encoding": {"x": {"datum": 0, "type": "quantitative", "title": "L ← Γ → F"}, "y": {"datum": 0.2, "type": "quantitative", "title": "Energy (eV)"},
       "fill": {"field": "p", "type": "nominal", "scale": {"range": ["#228b22"]},
        "legend": {"orient": "none", "legendX": 13, "legendY": 311, "title": null, "symbolSize": 400, "symbolOpacity": 1, "labelFont": "Liberation Sans", "labelFontSize": 29, "labelOffset": 11}}}}
    ]
   },
   {
    "width": 337, "height": 349,
    "view": {"stroke": null},
    "layer": [
     {"data": {"name": "bands"},
      "mark": {"type": "trail", "color": "#00ff00", "clip": true},
      "encoding": {
       "x": {"field": "k", "type": "quantitative", "scale": {"domain": [-1.02, 0.94], "nice": false, "zero": false}, "title": "L ← Γ → F",
             "axis": {"ticks": false, "labels": false, "domain": true, "titleFont": "Liberation Sans", "titleFontSize": 28, "titlePadding": 5, "titleColor": "#111"}},
       "y": {"field": "E", "type": "quantitative", "scale": {"domain": [0.1, 0.3], "nice": false, "zero": false}, "title": "",
             "axis": {"values": [0.1, 0.15, 0.2, 0.25, 0.3], "domain": true, "labelExpr": "abs(datum.value*10 - round(datum.value*10)) < 0.01 ? format(datum.value, '.1f') : ''"}},
       "detail": {"field": "b", "type": "nominal"},
       "order": {"field": "k", "type": "quantitative"},
       "size": {"field": "wQQ", "type": "quantitative", "scale": {"domain": [0, 1], "range": [0, 8]}, "legend": null}
      }},
     {"data": {"name": "bands"},
      "mark": {"type": "line", "color": "#333", "strokeWidth": 0.9, "opacity": 0.55, "clip": true},
      "encoding": {"x": {"field": "k", "type": "quantitative", "title": "L ← Γ → F"}, "y": {"field": "E", "type": "quantitative", "title": ""}, "detail": {"field": "b", "type": "nominal"}}},
     {"data": {"values": [{}]}, "mark": {"type": "rule", "color": "#333", "strokeWidth": 1.5}, "encoding": {"x": {"datum": 0, "type": "quantitative", "title": "L ← Γ → F"}}},
     {"data": {"values": [{}]}, "mark": {"type": "rule", "color": "#333", "strokeWidth": 1.5}, "encoding": {"y": {"datum": 0.3, "type": "quantitative", "title": ""}}},
     {"data": {"values": [{}]},
      "mark": {"type": "text", "font": "Liberation Serif", "fontSize": 27, "color": "#111", "align": "center", "baseline": "middle"},
      "encoding": {"x": {"datum": -0.785, "type": "quantitative", "title": "L ← Γ → F"}, "y": {"datum": 0.2822, "type": "quantitative", "title": ""}, "text": {"value": "(d)"}}},
     {"data": {"values": [{"p": "QL/QL"}]},
      "mark": {"type": "circle", "opacity": 0},
      "encoding": {"x": {"datum": 0, "type": "quantitative", "title": "L ← Γ → F"}, "y": {"datum": 0.2, "type": "quantitative", "title": ""},
       "fill": {"field": "p", "type": "nominal", "scale": {"range": ["#00ff00"]},
        "legend": {"orient": "none", "legendX": 12, "legendY": 316, "title": null, "symbolSize": 420, "symbolOpacity": 1, "labelFont": "Liberation Sans", "labelFontSize": 29, "labelOffset": 11}}}}
    ]
   }
]
}
